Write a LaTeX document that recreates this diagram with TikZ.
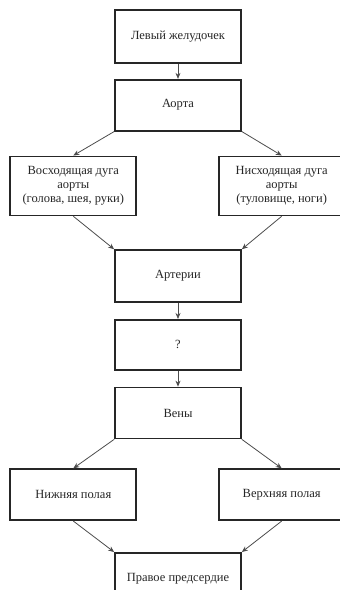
\documentclass[tikz,border=0pt]{standalone}
\usepackage{fontspec}
\setmainfont{Liberation Serif}
\usepackage{tikz}
\usetikzlibrary{positioning}
\usetikzlibrary{arrows.meta}

\begin{document}
\begin{tikzpicture}
		[block/.style={rectangle, draw=black!85, line width=1.7pt, minimum width=126pt, minimum height=51pt, inner sep=0pt, align=center, text=black!85, font=\fontsize{12.5}{14}\selectfont},
		flow/.style={-{Stealth[length=6pt, width=5pt]}, line width=0.8pt, draw=black!70}]
		\clip (0pt,0pt) rectangle (340pt,-590pt);
		\node[block, minimum height=53pt] (lv) at (178pt,-36.5pt) {Левый желудочек};
		\node[block, below=15pt of lv] (aorta) {Аорта};

		\node[block, minimum height=59pt, below left=24pt and -23pt of aorta] (asc) {Восходящая дуга\\аорты\\(голова, шея, руки)};
		\node[block, minimum height=59pt, below right=24pt and -24pt of aorta] (desc) {Нисходящая дуга\\аорты\\(туловище, ноги)};

		\node[block, minimum height=52pt, below right=33pt and -23pt of asc] (art) {Артерии};
		\node[block, minimum height=50pt, below=16pt of art] (q) {?};
		\node[block, below=16pt of q] (veins) {Вены};

		\node[block, below left=29pt and -23pt of veins] (low) {Нижняя полая};
		\node[block, below right=29pt and -24pt of veins] (up) {Верхняя полая};

		\node[block, minimum height=52pt, below right=31pt and -23pt of low] (ra) {Правое предсердие};

		\draw[flow] (lv) to (aorta);
		\draw[flow] (aorta.south west) to (asc.north);
		\draw[flow] (aorta.south east) to (desc.north);

		\draw[flow] (asc.south) to (art.north west);
		\draw[flow] (desc.south) to (art.north east);

		\draw[flow] (art) to (q);
		\draw[flow] (q) to (veins);

		\draw[flow] (veins.south west) to (low.north);
		\draw[flow] (veins.south east) to (up.north);

		\draw[flow] (low.south) to (ra.north west);
		\draw[flow] (up.south) to (ra.north east);
	\end{tikzpicture}
\end{document}
